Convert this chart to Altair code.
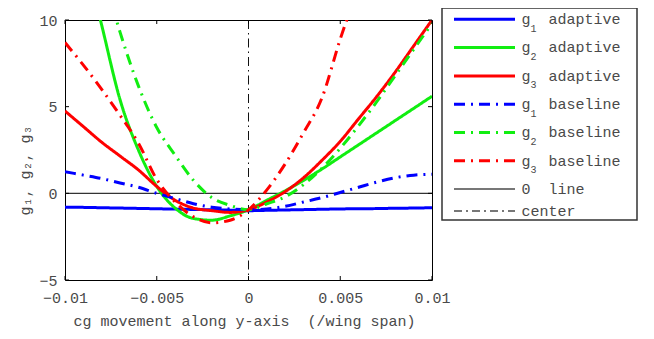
import altair as alt
import pandas as pd

# ---------------- data ----------------
x_vals = [-0.010, -0.009, -0.008, -0.007, -0.006, -0.005, -0.004, -0.003, -0.002, -0.001,
          0.000, 0.001, 0.002, 0.003, 0.004, 0.005, 0.006, 0.007, 0.008, 0.009, 0.010]

g1_adaptive = [-0.80, -0.81, -0.83, -0.85, -0.87, -0.89, -0.91, -0.93, -0.95, -0.97,
               -1.00, -0.98, -0.96, -0.94, -0.92, -0.90, -0.89, -0.88, -0.86, -0.85, -0.83]
g2_adaptive = [18.0, 14.0, 9.7, 5.4, 2.5, 0.4, -0.85, -1.45, -1.55, -1.3,
               -0.95, -0.4, 0.15, 0.75, 1.4, 2.1, 2.8, 3.5, 4.2, 4.9, 5.6]
g3_adaptive = [4.75, 3.85, 2.95, 2.15, 1.35, 0.4, -0.4, -0.85, -1.0, -1.1,
               -0.95, -0.5, 0.1, 0.9, 1.9, 3.0, 4.3, 5.6, 7.0, 8.5, 10.0]
g1_baseline = [1.25, 1.05, 0.85, 0.6, 0.35, 0.0, -0.3, -0.6, -0.8, -0.9,
               -0.95, -0.9, -0.75, -0.5, -0.25, 0.05, 0.35, 0.65, 0.9, 1.05, 1.1]
g2_baseline = [22.0, 17.0, 13.0, 9.3, 6.2, 3.8, 2.2, 0.75, -0.25, -0.7,
               -0.95, -0.6, -0.2, 0.5, 1.45, 2.6, 3.9, 5.3, 6.8, 8.3, 9.8]
g3_baseline = [8.7, 7.4, 6.0, 4.5, 2.9, 0.8, -0.5, -1.35, -1.7, -1.55,
               -0.95, 0.2, 1.7, 3.5, 5.5, 8.9, 12.0, 15.5, 19.0, 23.0, 27.0]

series_names = ["g1 adaptive", "g2 adaptive", "g3 adaptive",
                "g1 baseline", "g2 baseline", "g3 baseline"]
series_values = [g1_adaptive, g2_adaptive, g3_adaptive,
                 g1_baseline, g2_baseline, g3_baseline]

xtick_vals = [-0.01, -0.005, 0, 0.005, 0.01]
ytick_vals = [-5, 0, 5, 10]

NB = "\u00a0"
legend_head = ["g", "g", "g", "g", "g", "g", "0", "center"]
legend_sub = ["1", "2", "3", "1", "2", "3", "", ""]
legend_tail = ["adaptive", "adaptive", "adaptive",
               "baseline", "baseline", "baseline", "line", ""]

x_title = "cg movement along y-axis" + NB + NB + "(/wing span)"
y_title = "g\u2081, g\u2082, g\u2083"

# ---------------- styles ----------------
FONT = "Courier New, Liberation Mono, monospace"
TXT = "#4a4a4a"
BLUE, GREEN, RED = "#0000ff", "#11ee11", "#ff0000"
colors = [BLUE, GREEN, RED, BLUE, GREEN, RED]
DASHDOT = [11, 6, 2, 6]
SOLID = [1, 0]
dashes = [SOLID, SOLID, SOLID, DASHDOT, DASHDOT, DASHDOT]

W, H = 367, 260

rows = []
for name, vals in zip(series_names, series_values):
    for xv, yv in zip(x_vals, vals):
        rows.append({"x": xv, "y": yv, "series": name})
df = pd.DataFrame(rows)

xscale = alt.Scale(domain=[-0.01, 0.01], nice=False, zero=False)
yscale = alt.Scale(domain=[-5, 10], nice=False, zero=False)

xaxis = alt.Axis(values=xtick_vals, labelExpr="datum.value == 0 ? '0' : format(datum.value, '~g')",
                 ticks=False, domain=False, grid=False, labelFont=FONT, labelFontSize=15,
                 labelColor=TXT, labelPadding=10, labelFlush=False,
                 title=x_title, titleFont=FONT, titleFontSize=15, titleFontWeight="normal",
                 titleColor=TXT, titleX=179, titleY=45, titleBaseline="alphabetic")
yaxis = alt.Axis(values=ytick_vals, format="d", ticks=False, domain=False, grid=False,
                 labelFont=FONT, labelFontSize=15, labelColor=TXT, labelPadding=8,
                 labelFlush=False,
                 title=y_title, titleFont=FONT, titleFontSize=15, titleFontWeight="normal",
                 titleColor=TXT, titleAngle=270, titleX=-41, titleY=150,
                 titleAlign="center", titleBaseline="middle")

zero_line = alt.Chart(pd.DataFrame({"y": [0]})).mark_rule(color="#333333", strokeWidth=1.2).encode(
    y=alt.Y("y:Q", scale=yscale, axis=yaxis))
center_line = alt.Chart(pd.DataFrame({"x": [0]})).mark_rule(
    color="#111111", strokeWidth=1, strokeDash=[9, 4, 1.5, 4]).encode(
    x=alt.X("x:Q", scale=xscale, axis=xaxis))

lines = alt.Chart(df).mark_line(clip=True, strokeWidth=3, strokeCap="butt",
                                interpolate="monotone").encode(
    x=alt.X("x:Q", scale=xscale, axis=xaxis),
    y=alt.Y("y:Q", scale=yscale, axis=yaxis),
    color=alt.Color("series:N", scale=alt.Scale(domain=series_names, range=colors), legend=None),
    strokeDash=alt.StrokeDash("series:N", scale=alt.Scale(domain=series_names, range=dashes),
                              legend=None),
)

# inward ticks on the frame
xt = pd.DataFrame({"v": xtick_vals})
yt = pd.DataFrame({"v": ytick_vals})
tick_top = alt.Chart(xt).mark_rule(color="black").encode(
    x=alt.X("v:Q", scale=xscale, axis=xaxis), y=alt.value(0), y2=alt.value(4))
tick_bot = alt.Chart(xt).mark_rule(color="black").encode(
    x=alt.X("v:Q", scale=xscale, axis=xaxis), y=alt.value(H), y2=alt.value(H - 4))
tick_left = alt.Chart(yt).mark_rule(color="black").encode(
    y=alt.Y("v:Q", scale=yscale, axis=yaxis), x=alt.value(0), x2=alt.value(4))
tick_right = alt.Chart(yt).mark_rule(color="black").encode(
    y=alt.Y("v:Q", scale=yscale, axis=yaxis), x=alt.value(W), x2=alt.value(W - 4))

# ---------------- custom legend ----------------
one = alt.Data(values=[{}])
LX0, LX1 = 377, 572
LY0, LY1 = -12, 200
legend_layers = [alt.Chart(one).mark_rect(fill="white", stroke="#333333", strokeWidth=1.5).encode(
    x=alt.value(LX0), x2=alt.value(LX1), y=alt.value(LY0), y2=alt.value(LY1))]

leg_colors = colors + ["#777777", "#777777"]
leg_dash = dashes + [SOLID, [8, 4, 2, 4]]
leg_width = [3] * 6 + [2, 2]
for i in range(8):
    ry = -0.7 + 28.3 * i if i < 7 else 191
    legend_layers.append(
        alt.Chart(one).mark_rule(color=leg_colors[i], strokeWidth=leg_width[i],
                                 strokeDash=leg_dash[i], strokeCap="butt").encode(
            x=alt.value(389), x2=alt.value(450), y=alt.value(ry)))
    legend_layers.append(
        alt.Chart(one).mark_text(align="left", baseline="alphabetic", font=FONT, fontSize=15,
                                 color=TXT).encode(
            x=alt.value(456.5), y=alt.value(ry + 4.7), text=alt.value(legend_head[i])))
    if legend_tail[i]:
        legend_layers.append(
            alt.Chart(one).mark_text(align="left", baseline="alphabetic", font=FONT, fontSize=15,
                                     color=TXT).encode(
                x=alt.value(456.5 + 27), y=alt.value(ry + 4.7), text=alt.value(legend_tail[i])))
    if legend_sub[i]:
        legend_layers.append(
            alt.Chart(one).mark_text(align="left", baseline="alphabetic", font=FONT, fontSize=10,
                                     color=TXT).encode(
                x=alt.value(465.5), y=alt.value(ry + 12.3), text=alt.value(legend_sub[i])))

chart = alt.layer(zero_line, center_line, lines, tick_top, tick_bot, tick_left, tick_right,
                  *legend_layers).properties(
    width=W, height=H,
    autosize=alt.AutoSizeParams(type="none"),
    padding={"left": 57, "top": 12, "right": 210, "bottom": 51},
).configure_view(stroke="black", strokeWidth=1)

chart.save("out.html", embed_options={"renderer": "svg", "actions": False})
